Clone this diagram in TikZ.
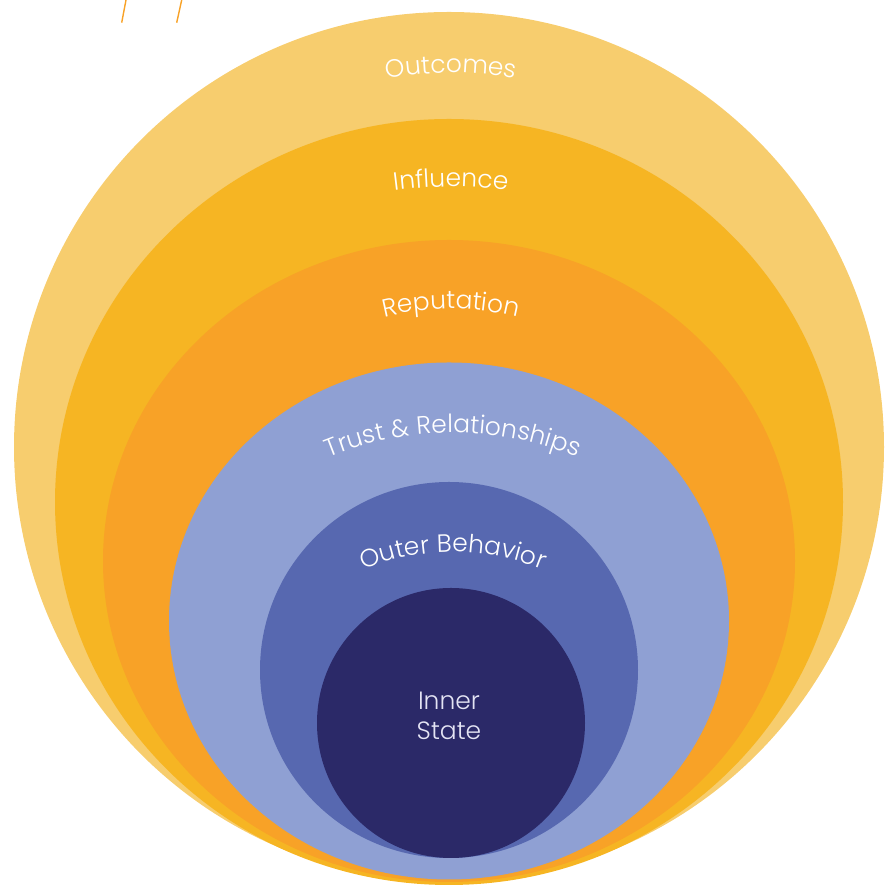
\documentclass[tikz,border=0pt]{standalone}
\usepackage{fontspec}
\setmainfont{Poppins}[UprightFont=* Light]
\usetikzlibrary{decorations.text}

\definecolor{outcomesfill}{HTML}{F7CD6E}
\definecolor{influencefill}{HTML}{F6B523}
\definecolor{reputationfill}{HTML}{F8A227}
\definecolor{trustfill}{HTML}{8FA0D3}
\definecolor{behaviorfill}{HTML}{5768B0}
\definecolor{innerfill}{HTML}{2B2968}
\definecolor{innertext}{HTML}{E4E4F4}

\newcommand{\labelfont}{\fontsize{25}{25}\selectfont}

\tikzset{
  ringlabel/.style={decorate, decoration={text along path, text align=center,
      text color=white, text format delimiters={|}{|}, text={#1}}},
  tick/.style={draw=reputationfill, line width=1.4pt}
}

\begin{document}
\begin{tikzpicture}[x=1pt,y=1pt]
        \useasboundingbox (0,0) rectangle (887,885);
        % Draw the nested rings, outside to inside
        \fill[outcomesfill] (449,438) circle [radius=435];
        \fill[influencefill] (449,383) ellipse [x radius=394, y radius=383];
        \fill[reputationfill] (449,324) ellipse [x radius=346, y radius=321];
        \fill[trustfill] (449,264) ellipse [x radius=280, y radius=258.5];
        \fill[behaviorfill] (449,215) ellipse [x radius=189, y radius=188];
        \fill[innerfill] (451,162) ellipse [x radius=134, y radius=135];
        % Curved ring labels
        \path[ringlabel={|\labelfont|Outcomes}] (451,438) ++(150:374) arc [start angle=150, end angle=30, radius=374];
        \path[ringlabel={|\labelfont|Influence}] (451,248) ++(150:450) arc [start angle=150, end angle=30, radius=450];
        \path[ringlabel={|\labelfont|Reputation}] (451,296) ++(150:280) arc [start angle=150, end angle=30, radius=280];
        \path[ringlabel={|\labelfont|Trust {\&} Relationships}] (453,122) ++(150:330) arc [start angle=150, end angle=30, radius=330];
        \path[ringlabel={|\labelfont|Outer Behavior}] (453,93) ++(150:240) arc [start angle=150, end angle=30, radius=240];
        \node[text=innertext, align=center, font=\fontsize{25}{30}\selectfont] (inner) at (449,169) {Inner\\State};
        % Two small strokes at the top edge
        \draw[tick] (121.7,862.3) -- (126,885);
        \draw[tick] (176.7,862.3) -- (181.7,885);
    \end{tikzpicture}
\end{document}
